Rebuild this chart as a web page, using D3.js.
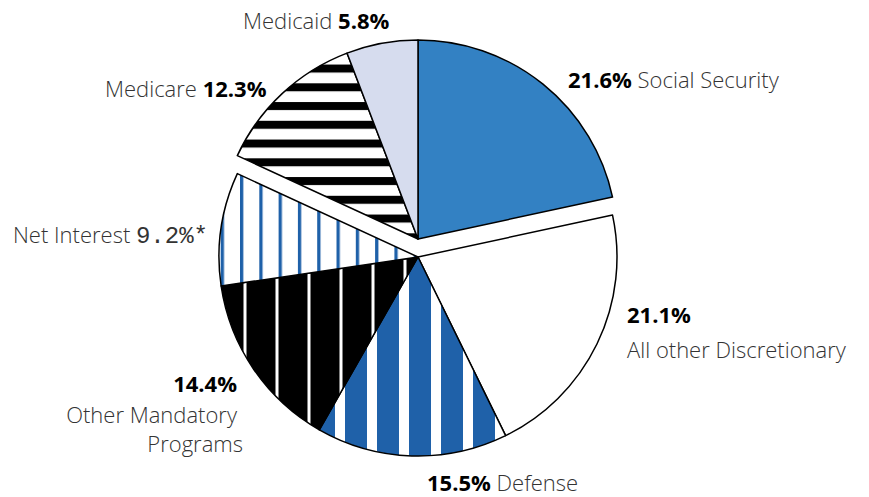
<!DOCTYPE html>
<html>
<head>
<meta charset="utf-8">
<script src="https://cdn.jsdelivr.net/npm/d3@7"></script>
<style>
  body { margin: 0; background: #fff; }
  text { font-family: "Open Sans", "Noto Sans", sans-serif; }
</style>
</head>
<body>
<div class="chartContainer"></div>
<script>
var width = 869;
var height = 497;

// data
var categories = ["Social Security", "All other Discretionary", "Defense",
  "Other Mandatory Programs", "Net Interest", "Medicare", "Medicaid"];
var values = [21.6, 21.1, 15.5, 14.4, 9.2, 12.3, 5.8];
var valueLabels = ["21.6%", "21.1%", "15.5%", "14.4%", "9.2%*", "12.3%", "5.8%"];
var raised = ["Social Security", "Medicare", "Medicaid"];

var cx = 418, cyLow = 257, cyHigh = 239, radius = 199;

var svg = d3.select(".chartContainer")
  .append("svg")
  .attr("width", width)
  .attr("height", height);

var defs = svg.append("defs");

// defense: wide blue bars, narrow white gaps
var pDef = defs.append("pattern").attr("id", "pDefense")
  .attr("patternUnits", "userSpaceOnUse")
  .attr("x", 335 - cx).attr("y", 0).attr("width", 32).attr("height", 10);
pDef.append("rect").attr("width", 32).attr("height", 10).attr("fill", "#1f61a9");
pDef.append("rect").attr("width", 10).attr("height", 10).attr("fill", "#fff");

// other mandatory: black with thin white lines
var pOM = defs.append("pattern").attr("id", "pOther")
  .attr("patternUnits", "userSpaceOnUse")
  .attr("x", 243.5 - cx).attr("y", 0).attr("width", 32).attr("height", 10);
pOM.append("rect").attr("width", 32).attr("height", 10).attr("fill", "#000");
pOM.append("rect").attr("width", 3).attr("height", 10).attr("fill", "#fff");

// net interest: white with thin blue lines
var pNI = defs.append("pattern").attr("id", "pInterest")
  .attr("patternUnits", "userSpaceOnUse")
  .attr("x", 220.7 - cx).attr("y", 0).attr("width", 19.3).attr("height", 10);
pNI.append("rect").attr("width", 19.3).attr("height", 10).attr("fill", "#fff");
pNI.append("rect").attr("width", 3.3).attr("height", 10).attr("fill", "#1f61a9");

// medicare: horizontal black/white stripes
var pMC = defs.append("pattern").attr("id", "pMedicare")
  .attr("patternUnits", "userSpaceOnUse")
  .attr("x", 0).attr("y", 83.3 - cyHigh).attr("width", 10).attr("height", 18.75);
pMC.append("rect").attr("width", 10).attr("height", 18.75).attr("fill", "#fff");
pMC.append("rect").attr("width", 10).attr("height", 8).attr("fill", "#000");

var fills = {
  "Social Security": "#3381c3",
  "All other Discretionary": "#fff",
  "Defense": "url(#pDefense)",
  "Other Mandatory Programs": "url(#pOther)",
  "Net Interest": "url(#pInterest)",
  "Medicare": "url(#pMedicare)",
  "Medicaid": "#d6dcee"
};

var pie = d3.pie().sort(null).value((d, i) => values[i]);
var arcs = pie(categories);
var arc = d3.arc().innerRadius(0).outerRadius(radius);

svg.selectAll("path.slice")
  .data(arcs)
  .enter()
  .append("path")
  .attr("class", "slice")
  .attr("d", arc)
  .attr("transform", (d) =>
    "translate(" + cx + "," + (raised.indexOf(d.data) >= 0 ? cyHigh : cyLow) + ")")
  .attr("fill", (d) => fills[d.data])
  .attr("stroke", "#000")
  .attr("stroke-width", 1.5)
  .attr("stroke-linejoin", "round");

// labels
function label(x, y, anchor, parts) {
  var t = svg.append("text")
    .attr("x", x).attr("y", y)
    .attr("text-anchor", anchor)
    .style("font-size", "22px");
  parts.forEach(function (p) {
    var s = t.append("tspan").text(p.text);
    if (p.bold) s.style("font-weight", 700).attr("fill", "#000");
    else s.style("font-weight", 300).attr("fill", "#333");
    if (p.mono) s.style("font-family", "'Liberation Mono', monospace").style("font-size", "24px");
  });
  return t;
}

label(243, 29, "start", [{ text: "Medicaid " }, { text: valueLabels[6], bold: true }]);
label(105, 97, "start", [{ text: "Medicare " }, { text: valueLabels[5], bold: true }]);
label(568, 88, "start", [{ text: valueLabels[0], bold: true }, { text: " Social Security" }]);
label(13, 243, "start", [{ text: "Net Interest " }, { text: valueLabels[4], mono: true }]);
label(627, 323, "start", [{ text: valueLabels[1], bold: true }]);
label(627, 358, "start", [{ text: "All other Discretionary" }]);
label(237, 392, "end", [{ text: valueLabels[3], bold: true }]);
label(237, 423, "end", [{ text: "Other Mandatory" }]);
label(243, 452, "end", [{ text: "Programs" }]);
label(427, 491, "start", [{ text: valueLabels[2], bold: true }, { text: " Defense" }]);
</script>
</body>
</html>
